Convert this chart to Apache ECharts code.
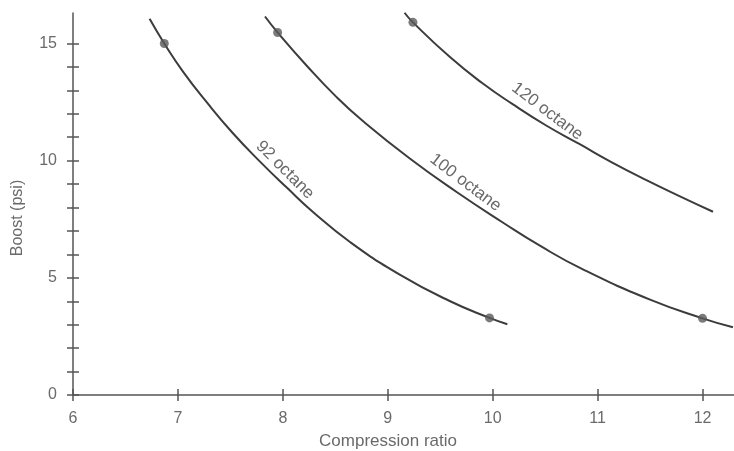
<!DOCTYPE html>
<html>
<head>
<meta charset="utf-8">
<script src="https://cdn.jsdelivr.net/npm/echarts@6/dist/echarts.min.js"></script>
<style>
html,body{margin:0;padding:0;background:#fff;}
#chart{width:734px;height:451px;}
</style>
</head>
<body>
<div id="chart"></div>
<script>
// ---- data ----
const xTicks = [6, 7, 8, 9, 10, 11, 12];
const yTicks = [0, 5, 10, 15];
const yMinorTicks = [0,1,2,3,4,5,6,7,8,9,10,11,12,13,14,15];

const octane92 = [[6.73,16.05],[6.87,15.0],[7.05,13.79],[7.28,12.46],[7.52,11.19],[7.78,9.97],[8.04,8.84],[8.29,7.8],[8.64,6.53],[9.11,5.15],[9.59,4.01],[9.97,3.29],[10.14,3.02]];
const octane100 = [[7.83,16.15],[7.95,15.47],[8.23,14.04],[8.51,12.72],[8.76,11.7],[9.21,10.09],[9.66,8.65],[10.1,7.35],[10.45,6.37],[10.86,5.36],[11.5,4.07],[12.0,3.27],[12.29,2.89]];
const octane120 = [[9.16,16.31],[9.24,15.9],[9.59,14.43],[9.9,13.31],[10.19,12.41],[10.51,11.5],[10.83,10.7],[11.14,9.92],[11.47,9.16],[11.78,8.49],[12.1,7.82]];

const markers92 = [[6.87,15.0],[9.97,3.29]];
const markers100 = [[7.95,15.47],[12.0,3.27]];
const markers120 = [[9.24,15.9]];

const curveLabels = ['92 octane', '100 octane', '120 octane'];
const curveLabelPos = [[8.02,9.6],[9.74,9.06],[10.52,12.1]];
const curveLabelAngle = [45, 37, 37];

const xName = 'Compression ratio';
const yName = 'Boost (psi)';

// ---- chart ----
const chart = echarts.init(document.getElementById('chart'), null, {renderer: 'canvas'});
const FONT = 'Liberation Sans, Arial, sans-serif';
const TXT = '#6a6a6a';
const AX = '#555';

const axisX = (inside, main) => ({
  type: 'value', min: 6, max: 12.3, position: 'bottom',
  axisLine: {show: main, onZero: false, lineStyle: {color: AX, width: 1.5}},
  axisTick: {show: true, inside: inside, length: 6, customValues: xTicks, lineStyle: {color: AX, width: 1.5}},
  axisLabel: {show: main, customValues: xTicks, margin: 16, color: TXT, fontSize: 16, fontFamily: FONT},
  splitLine: {show: false}
});
const axisY = (inside, main) => ({
  type: 'value', min: 0, max: 16.3, position: 'left',
  axisLine: {show: main, onZero: false, lineStyle: {color: AX, width: 1.5}},
  axisTick: {show: true, inside: inside, length: 6, customValues: yMinorTicks, lineStyle: {color: AX, width: 1.5}},
  axisLabel: {show: main, customValues: yTicks, margin: 16, color: TXT, fontSize: 16, fontFamily: FONT},
  splitLine: {show: false}
});

const lineSeries = (data) => ({
  type: 'line', data: data, smooth: 0.5, symbol: 'none', xAxisIndex: 0, yAxisIndex: 0,
  lineStyle: {color: '#3c3c3c', width: 2}, z: 3, silent: true
});
const markSeries = (data) => ({
  type: 'scatter', data: data, symbol: 'circle', symbolSize: 9, xAxisIndex: 0, yAxisIndex: 0,
  itemStyle: {color: '#5a5a5a'}, z: 4, silent: true
});

chart.setOption({
  animation: false,
  backgroundColor: '#ffffff',
  grid: {left: 73, right: 0, top: 13, bottom: 56, containLabel: false, outerBoundsMode: 'none'},
  xAxis: [axisX(false, true), axisX(true, false)],
  yAxis: [axisY(false, true), axisY(true, false)],
  series: [
    lineSeries(octane92), lineSeries(octane100), lineSeries(octane120),
    markSeries(markers92), markSeries(markers100), markSeries(markers120)
  ]
});

const graphics = [];
curveLabels.forEach((t, i) => {
  const p = chart.convertToPixel({xAxisIndex: 0, yAxisIndex: 0}, curveLabelPos[i]);
  graphics.push({
    type: 'text', x: p[0], y: p[1], rotation: -curveLabelAngle[i] * Math.PI / 180,
    style: {text: t, fill: TXT, font: '17px ' + FONT, align: 'center', verticalAlign: 'middle'}
  });
});
graphics.push({
  type: 'text', x: 388, y: 441,
  style: {text: xName, fill: TXT, font: '17px ' + FONT, align: 'center', verticalAlign: 'middle'}
});
graphics.push({
  type: 'text', x: 18, y: 218, rotation: Math.PI / 2,
  style: {text: yName, fill: TXT, font: '16px ' + FONT, align: 'center', verticalAlign: 'middle'}
});
chart.setOption({graphic: graphics});
</script>
</body>
</html>
